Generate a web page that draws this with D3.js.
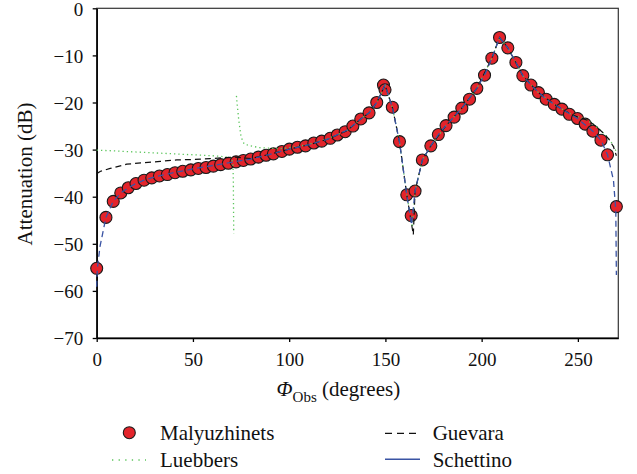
<!DOCTYPE html>
<html>
<head>
<meta charset="utf-8">
<script src="https://cdn.jsdelivr.net/npm/d3@7"></script>
<style>
  html, body { margin: 0; padding: 0; background: #fff; }
  svg { display: block; }
  text { font-family: "Liberation Serif", "Times New Roman", serif; fill: #111; }
</style>
</head>
<body>
<svg id="chart" width="637" height="474"></svg>
<script>
// Attenuation vs observation angle for four diffraction models

// Malyuzhinets reference solution (markers)
const phiMaly = [0, 4.8, 8.6, 12.5, 16.4, 20.4, 24.6, 28.6, 32.6, 36.7, 40.7, 44.7, 48.9, 52.8, 56.8,
  60.6, 64.4, 68.4, 72.4, 76.2, 80.0, 84.0, 88.0, 91.8, 96.2, 100.1, 104.3, 108.5, 112.8, 116.9,
  121.3, 125.0, 129.1, 133.1, 137.2, 141.5, 145.5, 149.0, 149.8, 153.6, 157.3, 161.1, 163.4, 165.4,
  169.2, 173.6, 177.5, 181.5, 185.7, 189.7, 193.7, 197.5, 201.5, 205.3, 209.3, 213.6, 217.8, 221.4,
  225.6, 229.5, 233.5, 237.7, 241.7, 245.6, 249.8, 253.8, 257.8, 262.0, 265.4, 270];
const attMaly = [-55.2, -44.4, -41.0, -39.2, -38.1, -37.2, -36.5, -36.0, -35.6, -35.3, -34.9, -34.6, -34.3, -34.0, -33.8,
  -33.5, -33.2, -32.9, -32.6, -32.3, -32.0, -31.6, -31.2, -30.9, -30.4, -29.9, -29.5, -29.2, -28.6, -28.2,
  -27.6, -26.9, -26.2, -25.0, -23.5, -22.2, -20.0, -16.3, -17.3, -21.0, -28.3, -39.6, -44.0, -38.8,
  -32.2, -29.2, -26.8, -24.9, -23.1, -21.2, -19.3, -17.0, -14.2, -10.6, -6.2, -8.4, -11.5, -14.3,
  -16.3, -17.9, -19.3, -20.4, -21.4, -22.5, -23.4, -24.6, -26.1, -28.0, -31.1, -42.1];

// Luebbers (null marks the singular direction near 72°)
const phiLuebbers = [0, 10, 20, 30, 40, 50, 60, 66, 70, 70.8, 71.0, 71.1, 71.2, 72, 72.6, 73.0, 73.4, 73.8,
  74.5, 75.0, 76.6, 79.7, 84.9, 90.1, 95, 100, 105, 110, 120, 130, 137.2, 141.5, 145.5, 149.8, 153.6,
  157.3, 161.1, 164.0, 165.4, 169.2, 173.6, 181.5, 189.7, 197.5, 205.3, 209.3, 213.6, 221.4, 229.5,
  237.7, 245.6, 250, 254, 258, 262, 265, 268, 270];
const attLuebbers = [-30.1, -30.3, -30.5, -30.7, -30.9, -31.1, -31.3, -31.5, -31.7, -33.0, -37.0, -43.0, -47.8, null, -18.6, -20.5, -22.0, -23.7,
  -25.8, -27.3, -28.8, -29.2, -29.6, -29.7, -29.8, -29.6, -29.3, -28.9, -27.7, -26.0, -23.5, -22.2, -20.0, -16.4, -21.0,
  -28.3, -39.6, -46.5, -38.8, -32.2, -29.2, -24.9, -21.2, -17.0, -10.6, -6.2, -8.4, -14.3, -17.9,
  -20.4, -22.3, -23.0, -23.6, -24.6, -26.0, -27.2, -28.8, -30.5];

// Guevara
const phiGuevara = [0, 2, 7, 15.6, 24, 33, 41.6, 50, 59, 67.6, 72, 80, 90, 100, 110, 120, 130, 137.2, 141.5,
  145.5, 149.8, 153.6, 157.3, 161.1, 164.5, 165.4, 169.2, 173.6, 181.5, 189.7, 197.5, 205.3, 209.3, 213.6,
  221.4, 229.5, 237.7, 245.6, 250, 254.6, 258, 263.3, 266, 268.5, 270];
const attGuevara = [-35.1, -34.6, -34.0, -33.1, -32.8, -32.5, -32.2, -32.1, -31.9, -31.7, -31.6, -31.9, -31.0, -29.9, -29.0, -27.8, -26.0, -23.5, -22.2,
  -20.0, -16.3, -21.0, -28.3, -39.6, -48.1, -38.8, -32.2, -29.2, -24.9, -21.2, -17.0, -10.6, -6.2, -8.4,
  -14.3, -17.9, -20.4, -22.3, -23.1, -23.7, -24.6, -26.5, -27.7, -29.4, -31.3];

// Schettino
const phiSchettino = [0, 0.3, 1.7, 4.8, 8.6, 12.5, 16.4, 20.4, 24.6, 30, 40, 50, 60, 70, 80, 90, 100, 110,
  120, 130, 137.2, 141.5, 145.5, 149.8, 153.6, 157.3, 161.1, 163.6, 165.4, 169.2, 173.6, 177.5, 181.5,
  189.7, 197.5, 201.5, 205.3, 209.3, 213.6, 217.8, 221.4, 225.6, 233.5, 241.7, 249.8, 257.8, 262.0,
  265.4, 268.5, 269.7, 270];
const attSchettino = [-59.1, -55.4, -50.6, -44.4, -41.0, -39.2, -38.1, -37.2, -36.5, -35.8, -34.9, -34.1, -33.4, -32.7, -32.0, -31.0, -29.9, -29.0,
  -27.8, -25.9, -23.5, -22.2, -20.0, -16.3, -21.0, -28.3, -39.6, -46.0, -38.8, -32.2, -29.2, -26.8, -24.9,
  -21.2, -17.0, -14.2, -10.6, -6.2, -8.4, -11.5, -14.3, -16.3, -19.3, -21.4, -23.4, -26.1, -28.0,
  -31.1, -36.5, -43.0, -56.6];

const xTicks = [0, 50, 100, 150, 200, 250];
const yTicks = [0, -10, -20, -30, -40, -50, -60, -70];

const legendNames = ["Malyuzhinets", "Luebbers", "Guevara", "Schettino"];

const colors = { maly: "#e3242b", luebbers: "#5cc55c", guevara: "#111111", schettino: "#3a54a4" };

const svg = d3.select("#chart");

const x = d3.scaleLinear().domain([0, 271]).range([96.7, 618.3]);
const y = d3.scaleLinear().domain([-70, 0]).range([338, 8.3]);

// plot frame
svg.append("rect")
  .attr("x", x(0)).attr("y", y(0))
  .attr("width", x(271) - x(0)).attr("height", y(-70) - y(0))
  .attr("fill", "none").attr("stroke", "#333").attr("stroke-width", 1.2);

// axes
const fmt = d3.format("d");
const gx = svg.append("g").attr("transform", `translate(0,${y(-70)})`)
  .call(d3.axisBottom(x).tickValues(xTicks).tickFormat(fmt).tickSize(4).tickSizeOuter(0));
const gy = svg.append("g").attr("transform", `translate(${x(0)},0)`)
  .call(d3.axisLeft(y).tickValues(yTicks).tickFormat(fmt).tickSize(4).tickSizeOuter(0));

[gx, gy].forEach(g => {
  g.select(".domain").attr("stroke", "#000").attr("stroke-width", 1.5);
  g.selectAll(".tick line").attr("stroke", "#000").attr("stroke-width", 1.3);
  g.selectAll(".tick text")
    .style("font-family", '"Liberation Serif", "Times New Roman", serif')
    .style("font-size", "19px").attr("fill", "#111");
});
gx.selectAll(".tick text").attr("y", 28).attr("dy", 0);
gy.selectAll(".tick text").attr("x", -13.4).attr("dy", "0.36em");

// axis titles
const xt = svg.append("text").attr("x", 276.6).attr("y", 395.5)
  .style("font-size", "21px");
xt.append("tspan").style("font-style", "italic").text("Φ");
xt.append("tspan").attr("dy", 6).style("font-size", "15px").text("Obs");
xt.append("tspan").attr("dy", -6).text(" (degrees)");

svg.append("text")
  .attr("transform", "translate(32,174) rotate(-90)")
  .attr("text-anchor", "middle").style("font-size", "21px")
  .text("Attenuation (dB)");

// data marks
const pts = (phis, atts) => phis.map((p, i) => ({ p, a: atts[i] }));
const line = d3.line()
  .defined(d => d.a !== null)
  .x(d => x(d.p)).y(d => y(d.a));

const plot = svg.append("g");

plot.selectAll("circle.maly")
  .data(pts(phiMaly, attMaly))
  .join("circle")
  .attr("class", "maly")
  .attr("cx", d => x(d.p)).attr("cy", d => y(d.a)).attr("r", 6)
  .attr("fill", colors.maly).attr("stroke", "#1a1a1a").attr("stroke-width", 1.1);

plot.append("path").datum(pts(phiLuebbers, attLuebbers))
  .attr("d", line).attr("fill", "none")
  .attr("stroke", colors.luebbers).attr("stroke-width", 1.3)
  .attr("stroke-dasharray", "1.3,3");

plot.append("path").datum(pts(phiGuevara, attGuevara))
  .attr("d", line).attr("fill", "none")
  .attr("stroke", colors.guevara).attr("stroke-width", 1.2)
  .attr("stroke-dasharray", "6,4");

plot.append("path").datum(pts(phiSchettino, attSchettino))
  .attr("d", line).attr("fill", "none")
  .attr("stroke", colors.schettino).attr("stroke-width", 1.3)
  .attr("stroke-dasharray", "6,4");

// legend
const lg = svg.append("g").style("font-size", "21px");
lg.append("circle").attr("cx", 129.3).attr("cy", 432.7).attr("r", 6)
  .attr("fill", colors.maly).attr("stroke", "#1a1a1a").attr("stroke-width", 1.1);
lg.append("text").attr("x", 160).attr("y", 440).text(legendNames[0]);

lg.append("line").attr("x1", 112).attr("x2", 146).attr("y1", 460).attr("y2", 460)
  .attr("stroke", colors.luebbers).attr("stroke-width", 1.3).attr("stroke-dasharray", "1.3,5.3");
lg.append("text").attr("x", 160).attr("y", 466.7).text(legendNames[1]);

lg.append("line").attr("x1", 385).attr("x2", 420).attr("y1", 433.3).attr("y2", 433.3)
  .attr("stroke", colors.guevara).attr("stroke-width", 1.2).attr("stroke-dasharray", "7,5");
lg.append("text").attr("x", 432.7).attr("y", 440).text(legendNames[2]);

lg.append("line").attr("x1", 385).attr("x2", 420).attr("y1", 459.3).attr("y2", 459.3)
  .attr("stroke", colors.schettino).attr("stroke-width", 1.6);
lg.append("text").attr("x", 432.7).attr("y", 466.7).text(legendNames[3]);
</script>
</body>
</html>
